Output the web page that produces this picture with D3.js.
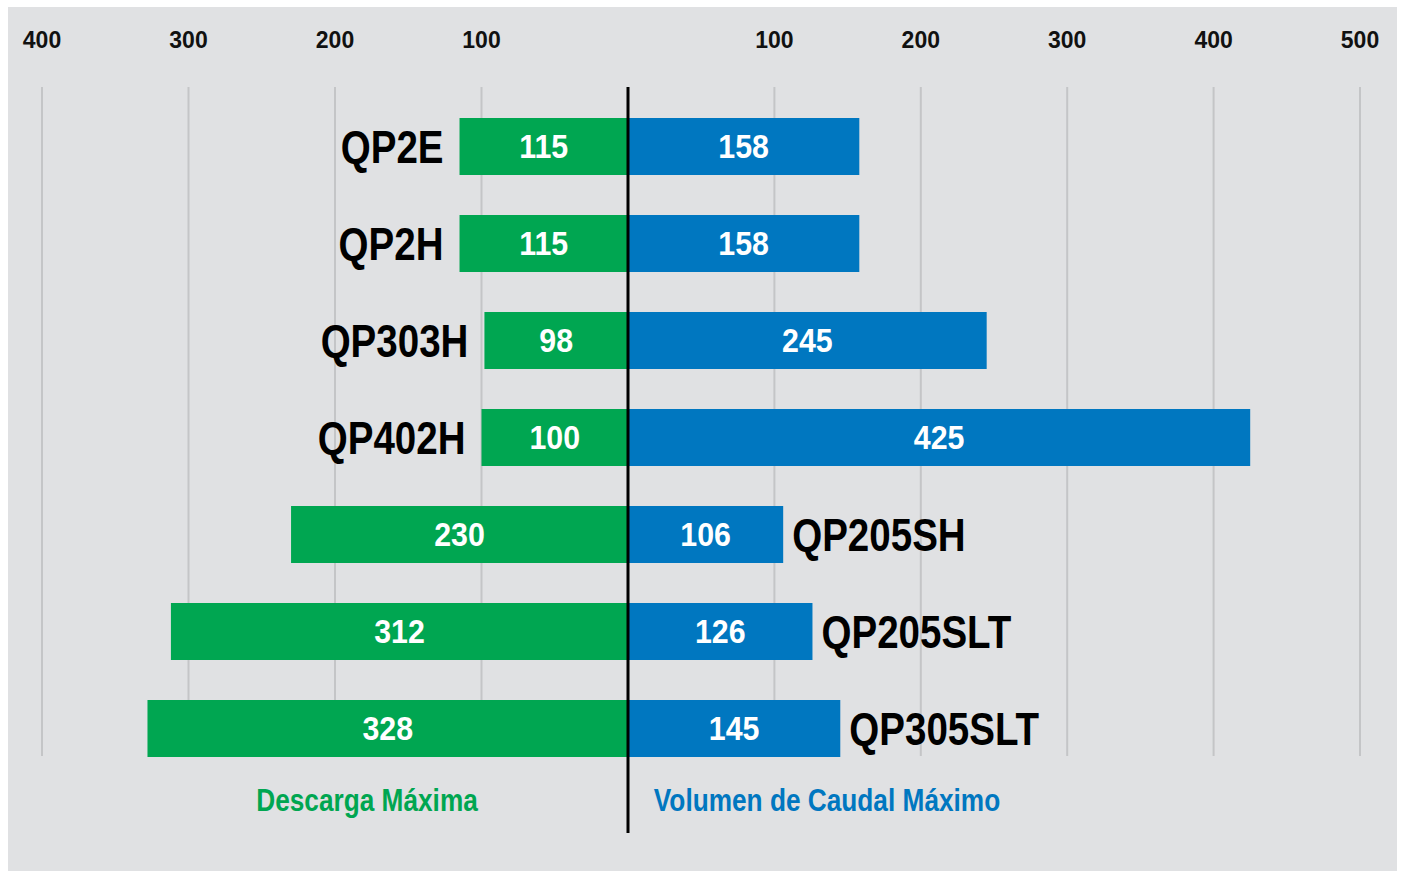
<!DOCTYPE html>
<html>
<head>
<meta charset="utf-8">
<script src="https://cdn.jsdelivr.net/npm/d3@7"></script>
<style>
  html, body { margin: 0; padding: 0; background: #ffffff; }
  svg { display: block; }
</style>
</head>
<body>
<svg id="chart"></svg>
<script>
// Data
const models = ['QP2E', 'QP2H', 'QP303H', 'QP402H', 'QP205SH', 'QP205SLT', 'QP305SLT'];
const descarga = [115, 115, 98, 100, 230, 312, 328];      // left (green)
const volumen = [158, 158, 245, 425, 106, 126, 145];      // right (blue)
const leftTicks = [100, 200, 300, 400];
const rightTicks = [100, 200, 300, 400, 500];
const legendLeft = 'Descarga Máxima';
const legendRight = 'Volumen de Caudal Máximo';

const W = 1401, H = 871;
const GREEN = '#00a651', BLUE = '#0077c0';
const font = '"Liberation Sans", Arial, Helvetica, sans-serif';
const NARROW = 0.82; // condensed look, Liberation Sans Narrow isn't installed

const svg = d3.select('#chart').attr('width', W).attr('height', H);

// Gray panel
svg.append('rect')
    .attr('x', 8).attr('y', 7)
    .attr('width', 1389).attr('height', 864)
    .attr('fill', '#e0e1e3');

// Scales
const xR = d3.scaleLinear().domain([0, 500]).range([628, 1360]);
const xL = d3.scaleLinear().domain([0, 400]).range([628, 42]);
const y = d3.scaleBand().domain(models).range([98, 777])
    .paddingInner(40 / 97).paddingOuter(20 / 97);

const gridTop = 87, gridBottom = 756;

// Gridlines
const grid = svg.append('g');
grid.selectAll('line.l').data(leftTicks).join('line')
    .attr('class', 'l')
    .attr('x1', d => xL(d)).attr('x2', d => xL(d))
    .attr('y1', gridTop).attr('y2', gridBottom)
    .attr('stroke', '#c4c5c7').attr('stroke-width', 2);
grid.selectAll('line.r').data(rightTicks).join('line')
    .attr('class', 'r')
    .attr('x1', d => xR(d)).attr('x2', d => xR(d))
    .attr('y1', gridTop).attr('y2', gridBottom)
    .attr('stroke', '#c4c5c7').attr('stroke-width', 2);

// Tick labels on top
const tickG = svg.append('g')
    .attr('font-family', font).attr('font-weight', 'bold')
    .attr('font-size', 23).attr('fill', '#111').attr('text-anchor', 'middle');
tickG.selectAll('text.l').data(leftTicks).join('text')
    .attr('class', 'l')
    .attr('x', d => xL(d)).attr('y', 48).text(d => d);
tickG.selectAll('text.r').data(rightTicks).join('text')
    .attr('class', 'r')
    .attr('x', d => xR(d)).attr('y', 48).text(d => d);

// Bars
const rows = models.map((m, i) => ({ model: m, left: descarga[i], right: volumen[i], i }));

svg.append('g').selectAll('rect').data(rows).join('rect')
    .attr('x', d => xL(d.left))
    .attr('y', d => y(d.model))
    .attr('width', d => xL(0) - xL(d.left))
    .attr('height', y.bandwidth())
    .attr('fill', GREEN);

svg.append('g').selectAll('rect').data(rows).join('rect')
    .attr('x', xR(0))
    .attr('y', d => y(d.model))
    .attr('width', d => xR(d.right) - xR(0))
    .attr('height', y.bandwidth())
    .attr('fill', BLUE);

// Value labels
const mid = d => y(d.model) + y.bandwidth() / 2;
const valG = svg.append('g')
    .attr('font-family', font).attr('font-weight', 'bold')
    .attr('font-size', 33).attr('fill', '#fff').attr('text-anchor', 'middle');
valG.selectAll('text.l').data(rows).join('text')
    .attr('transform', d => `translate(${(xL(d.left) + xL(0)) / 2},${mid(d) + 11}) scale(0.92,1)`)
    .text(d => d.left);
valG.selectAll('text.r').data(rows).join('text')
    .attr('transform', d => `translate(${(xR(d.right) + xR(0)) / 2},${mid(d) + 11}) scale(0.92,1)`)
    .text(d => d.right);

// Model labels: first four left of the green bar, rest right of the blue bar
svg.append('g').selectAll('text').data(rows).join('text')
    .attr('font-family', font).attr('font-weight', 'bold')
    .attr('font-size', 47).attr('fill', '#000')
    .attr('text-anchor', d => d.i < 4 ? 'end' : 'start')
    .attr('transform', d => {
        const x = d.i < 4 ? xL(d.left) - 16 : xR(d.right) + 9;
        return `translate(${x},${mid(d) + 16}) scale(${NARROW},1)`;
    })
    .text(d => d.model);

// Center axis line
svg.append('line')
    .attr('x1', 628).attr('x2', 628)
    .attr('y1', gridTop).attr('y2', 833)
    .attr('stroke', '#000').attr('stroke-width', 3);

// Series captions
const captions = [
    { text: legendLeft, x: 367, color: GREEN },
    { text: legendRight, x: 827, color: BLUE }
];
svg.append('g').selectAll('text').data(captions).join('text')
    .attr('transform', d => `translate(${d.x},811) scale(${NARROW},1)`)
    .attr('text-anchor', 'middle')
    .attr('font-family', font).attr('font-weight', 'bold')
    .attr('font-size', 32).attr('fill', d => d.color)
    .text(d => d.text);
</script>
</body>
</html>
